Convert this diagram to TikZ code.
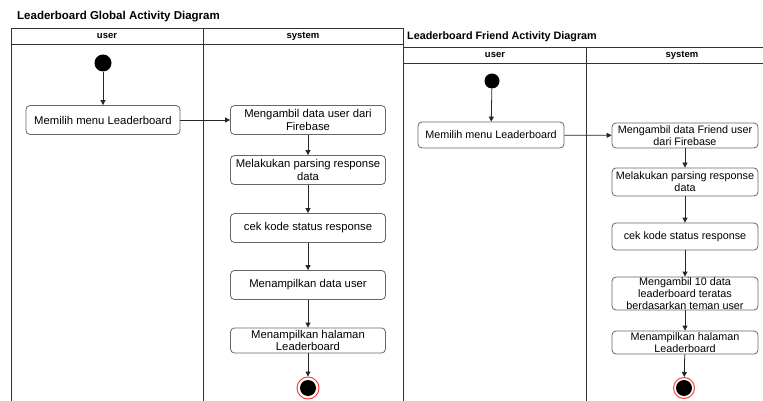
\documentclass[tikz,border=0pt]{standalone}
\usepackage{fontspec}
\setmainfont{Liberation Sans}
\usetikzlibrary{arrows.meta}
\begin{document}
\begin{tikzpicture}[x=1pt,y=-1pt,
  lane/.style={draw=black!80, line width=0.9pt},
  hdr/.style={font=\fontsize{9.5}{11}\selectfont\bfseries, inner sep=0pt},
  ttl/.style={anchor=west, inner sep=0pt, font=\bfseries},
  act/.style={draw=black!60, line width=0.8pt, rounded corners=4pt, fill=white,
    align=center, inner sep=0pt},
  actL/.style={act, minimum width=155pt, font=\fontsize{11.3}{12.8}\selectfont},
  actR/.style={act, minimum width=146pt, font=\fontsize{10.8}{12.2}\selectfont},
  initial/.style={circle, fill=black, inner sep=0pt},
  final/.style={circle, draw=red!75, line width=1pt, fill=white, inner sep=0pt,
    minimum size=22pt,
    path picture={\fill[black] (path picture bounding box.center) circle (8pt);}},
  flow/.style={draw=black!85, line width=0.8pt, -{Triangle[length=5pt,width=5pt]}}
]
\clip (0,0) rectangle (763,401);

% ---------- Global leaderboard ----------
\node[ttl, font=\fontsize{11.5}{13}\selectfont\bfseries] (gt) at (17,17) {Leaderboard Global Activity Diagram};
\draw[lane] (11.5,28) rectangle (403,410);
\draw[lane] (11.5,44) -- (403,44);
\draw[lane] (203,28) -- (203,410);
\node[hdr] (gu) at (107,36) {user};
\node[hdr] (gy) at (303,36) {system};

\node[initial, minimum size=17pt] (gs) at (103,63) {};
\node[actL, minimum width=154pt, minimum height=29pt] (g1) at (103,120) {Memilih menu Leaderboard};
\node[actL, minimum height=29pt] (g2) at (308,120) {Mengambil data user dari\\Firebase};
\node[actL, minimum height=29pt] (g3) at (308,170) {Melakukan parsing response\\data};
\node[actL, minimum height=29pt] (g4) at (308,228) {cek kode status response};
\node[actL, minimum height=29pt] (g5) at (308,285) {Menampilkan data user};
\node[actL, minimum height=25pt] (g6) at (308,340.5) {Menampilkan halaman\\Leaderboard};
\node[final] (ge) at (308,388) {};

\draw[flow] (gs) -- (g1);
\draw[flow] (g1) -- (g2);
\draw[flow] (g2) -- (g3);
\draw[flow] (g3) -- (g4);
\draw[flow] (g4) -- (g5);
\draw[flow] (g5) -- (g6);
\draw[flow] (g6) -- (ge);

% ---------- Friend leaderboard ----------
\node[ttl, font=\fontsize{10.8}{12}\selectfont\bfseries] (ft) at (407,37) {Leaderboard Friend Activity Diagram};
\draw[lane] (403,47) -- (790,47);
\draw[lane] (403,63) -- (790,63);
\draw[lane] (586,47) -- (586,410);
\node[hdr] (fu) at (495,55) {user};
\node[hdr] (fy) at (682,55) {system};

\node[initial, minimum size=15pt] (fs) at (492,81) {};
\node[actR, minimum height=26pt] (f1) at (491,135) {Memilih menu Leaderboard};
\node[actR, minimum height=25pt] (f2) at (685,135.5) {Mengambil data Friend user\\dari Firebase};
\node[actR, minimum height=28pt] (f3) at (685,182) {Melakukan parsing response\\data};
\node[actR, minimum height=27pt] (f4) at (685,236.5) {cek kode status response};
\node[actR, minimum height=33pt] (f5) at (685,293.5) {Mengambil 10 data\\leaderboard teratas\\berdasarkan teman user};
\node[actR, minimum height=23pt] (f6) at (685,342.5) {Menampilkan halaman\\Leaderboard};
\node[final, minimum size=21pt] (fe) at (684,388) {};

\draw[flow] (fs) -- (f1);
\draw[flow] (f1) -- (f2);
\draw[flow] (f2) -- (f3);
\draw[flow] (f3) -- (f4);
\draw[flow] (f4) -- (f5);
\draw[flow] (f5) -- (f6);
\draw[flow] (f6) -- (fe);
\end{tikzpicture}
\end{document}
